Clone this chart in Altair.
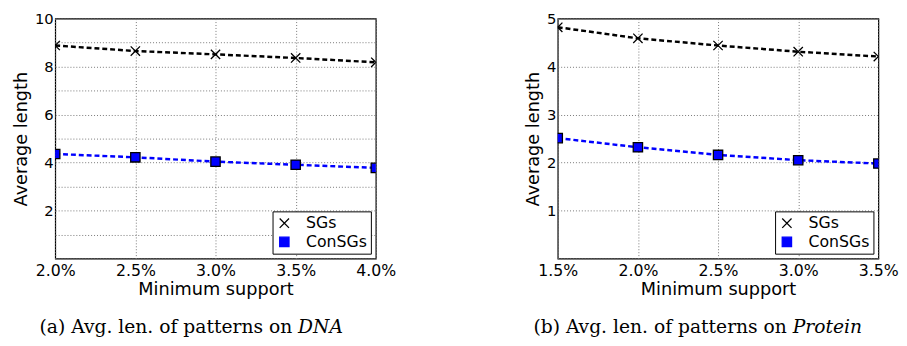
import altair as alt
import pandas as pd

# ---- data ----
series = ["SGs", "ConSGs"]
support_a = [2.0, 2.5, 3.0, 3.5, 4.0]
sgs_a = [8.88, 8.65, 8.51, 8.36, 8.18]
consgs_a = [4.36, 4.22, 4.04, 3.91, 3.78]
support_b = [1.5, 2.0, 2.5, 3.0, 3.5]
sgs_b = [4.82, 4.59, 4.44, 4.31, 4.21]
consgs_b = [2.51, 2.32, 2.16, 2.05, 1.98]
caption_a = ["(a)  Avg. len. of patterns on", "DNA"]
caption_b = ["(b)  Avg. len. of patterns on", "Protein"]

XPATH = "M-1,-1L1,1M-1,1L1,-1"
W, H = 326, 244
SANS = "DejaVu Sans"
SERIF = "DejaVu Serif"


def panel(support, sgs, consgs, ymax, even_only, caption, cap_x):
    df = pd.DataFrame({
        "support": support + support,
        "value": sgs + consgs,
        "series": [series[0]] * len(support) + [series[1]] * len(support),
    })
    label_expr = ("datum.value > 0 && datum.value % 2 == 0 ? datum.value : ''"
                  if even_only else "datum.value > 0 ? datum.value : ''")
    x = alt.X("support:Q",
              scale=alt.Scale(domain=[min(support), max(support)], nice=False, zero=False),
              axis=alt.Axis(values=support, labelExpr="format(datum.value, '.1f') + '%'",
                            title="Minimum support"))
    y = alt.Y("value:Q",
              scale=alt.Scale(domain=[0, ymax], nice=False),
              axis=alt.Axis(values=list(range(0, ymax + 1)), labelExpr=label_expr,
                            title="Average length"))
    color_scale = alt.Scale(domain=series, range=["black", "#0000ff"])
    shape_scale = alt.Scale(domain=series, range=[XPATH, "square"])
    leg = alt.Legend(title=None, orient="bottom-right", offset=5,
                     strokeColor="black", fillColor="white", padding=4,
                     labelFont=SANS, labelFontSize=16, labelColor="black",
                     symbolSize=90, symbolStrokeColor="black", symbolStrokeWidth=1.3,
                     rowPadding=3, cornerRadius=0, labelOffset=14)
    base = alt.Chart(df)
    line = base.mark_line(strokeDash=[5, 3], strokeWidth=2.5, clip=True).encode(
        x=x, y=y, color=alt.Color("series:N", scale=color_scale, legend=leg))
    pts = base.mark_point(filled=True, size=90, stroke="black", strokeWidth=1.3,
                          opacity=1, clip=True).encode(
        x=x, y=y,
        color=alt.Color("series:N", scale=color_scale, legend=leg),
        shape=alt.Shape("series:N", scale=shape_scale, legend=leg))
    cap1 = alt.Chart(pd.DataFrame({"t": [caption[0]]})).mark_text(
        font=SERIF, fontSize=19, align="right", baseline="alphabetic", color="black").encode(
        text="t:N", x=alt.value(cap_x - 6), y=alt.value(320))
    cap2 = alt.Chart(pd.DataFrame({"t": [caption[1]]})).mark_text(
        font=SERIF, fontSize=19, fontStyle="italic", align="left",
        baseline="alphabetic", color="black").encode(
        text="t:N", x=alt.value(cap_x), y=alt.value(320))
    return alt.layer(line, pts, cap1, cap2).properties(width=W, height=H)


left = panel(support_a, sgs_a, consgs_a, 10, True, caption_a, 247)
right = panel(support_b, sgs_b, consgs_b, 5, False, caption_b, 239)

chart = alt.hconcat(left, right, spacing=185, bounds="flush").resolve_scale(
    x="independent", y="independent", color="independent", shape="independent"
).properties(
    padding={"left": 4, "top": 0, "right": 0, "bottom": 0}
).configure_view(stroke="black", strokeWidth=1.2).configure_axis(
    labelFont=SANS, labelFontSize=15, labelColor="black", labelFlush=False,
    titleFont=SANS, titleFontSize=18, titleFontWeight="normal", titleColor="black",
    grid=True, gridColor="#777777", gridDash=[1, 2], gridOpacity=1, gridWidth=1,
    domain=False, ticks=False, labelPadding=2, titlePadding=4,
).configure_axisX(labelPadding=4, titlePadding=3, labelFontSize=16)

chart.save("out.html", embed_options={"renderer": "svg", "actions": False})
